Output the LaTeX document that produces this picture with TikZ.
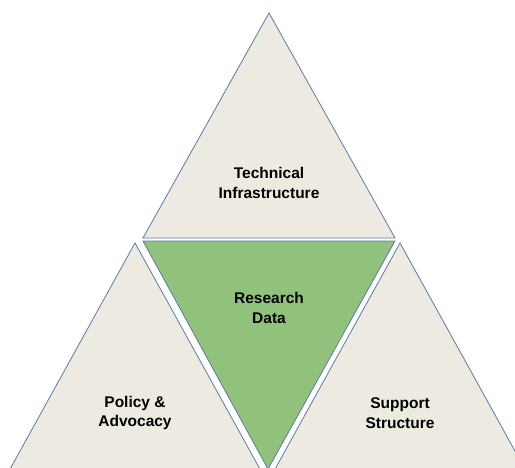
\documentclass[tikz,border=0pt]{standalone}
\usepackage{fontspec}
\setmainfont{Liberation Sans}
\usepackage{tikz}

\definecolor{paper}{HTML}{EDEBE1}
\definecolor{leaf}{HTML}{91C27C}
\definecolor{rim}{HTML}{5B7BA8}

\begin{document}
\begin{tikzpicture}[x=1pt,y=-1pt,
        tri/.style={draw=rim,line width=0.8pt,line join=miter},
        lbl/.style={align=center,font=\bfseries\fontsize{15.5}{19.5}\selectfont}]
        \useasboundingbox (0,0) rectangle (515,467);
        \clip (0,0) rectangle (515,467);

        % top
        \draw[tri,fill=paper] (269,13) -- (143,238) -- (395,238) -- cycle;
        \node[lbl] (tech) at (269,183) {Technical\\Infrastructure};

        % middle
        \draw[tri,fill=leaf] (143,241) -- (395,241) -- (268,469) -- cycle;
        \node[lbl] (data) at (269,308) {Research\\Data};

        % bottom left and right
        \draw[tri,fill=paper] (135,243) -- (4,480) -- (266,480) -- cycle;
        \node[lbl] (policy) at (135,413) {Policy \&\\Advocacy};

        \draw[tri,fill=paper] (400,243) -- (269,480) -- (531,480) -- cycle;
        \node[lbl] (support) at (400,413) {Support\\Structure};
    \end{tikzpicture}
\end{document}
